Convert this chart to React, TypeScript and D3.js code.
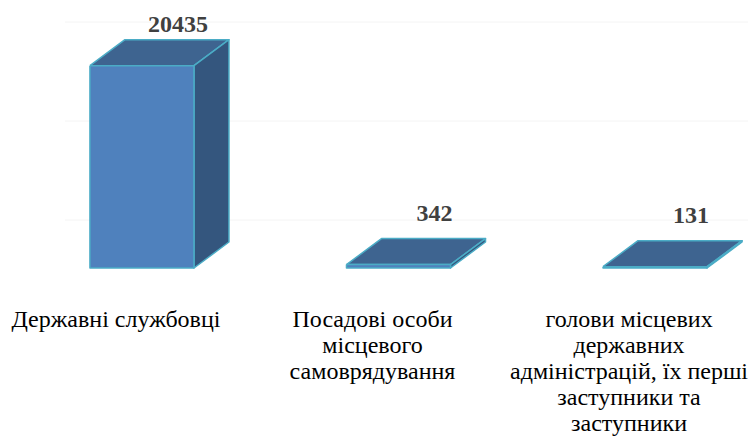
import React from "react";
import * as d3 from "d3";

const categories: string[][] = [
  ["Державні службовці"],
  ["Посадові особи", "місцевого", "самоврядування"],
  ["голови місцевих", "державних", "адміністрацій, їх перші", "заступники та", "заступники"],
];
const values: number[] = [20435, 342, 131];
const gridValues: number[] = [0, 10000, 20000];

const W = 748;
const H = 437;
const BASE = 268;
const DX = 35;
const DY = -26;
const WALL_DX = 65;
const WALL_DY = -48;
const FONT = "Liberation Serif";

export default function App() {
  const keys = categories.map((_, i) => String(i));
  const x = d3
    .scaleBand<string>()
    .domain(keys)
    .range([13.75, 783.25])
    .paddingInner(0.5945)
    .paddingOuter(0.297);
  const y = d3.scaleLinear().domain([0, 25000]).range([BASE, BASE - 25000 * 0.0099]);
  const bw = x.bandwidth();

  const poly = (pts: [number, number][]) => d3.line()(pts.concat([pts[0]])) as string;

  return (
    <svg width={W} height={H} style={{ position: "absolute", left: 0, top: 0 }}>
      {gridValues.map((g) => (
        <line
          key={g}
          x1={WALL_DX}
          x2={W}
          y1={y(g) + WALL_DY}
          y2={y(g) + WALL_DY}
          stroke="#f4f4f4"
          strokeWidth={1}
        />
      ))}
      {values.map((v, i) => {
        const x0 = x(keys[i]) as number;
        const x1 = x0 + bw;
        const yt = y(v);
        const yb = y(0);
        const top = poly([
          [x0, yt],
          [x1, yt],
          [x1 + DX, yt + DY],
          [x0 + DX, yt + DY],
        ]);
        const side = poly([
          [x1, yt],
          [x1 + DX, yt + DY],
          [x1 + DX, yb + DY],
          [x1, yb],
        ]);
        const front = poly([
          [x0, yt],
          [x1, yt],
          [x1, yb],
          [x0, yb],
        ]);
        const labelY = Math.max(yt + DY - 18, 32);
        return (
          <g key={i}>
            <path d={top} fill="#3e6490" stroke="#4bacc6" strokeWidth={1.5} strokeLinejoin="round" />
            <path d={side} fill="#34567e" stroke="#4bacc6" strokeWidth={1.5} strokeLinejoin="round" />
            <path d={front} fill="#4f81bd" stroke="#4bacc6" strokeWidth={1.5} strokeLinejoin="round" />
            <text
              x={x0 + DX + bw / 2 + 1}
              y={labelY}
              textAnchor="middle"
              fontSize={24}
              fill="#404040"
              style={{ fontFamily: FONT, fontWeight: 700 }}
            >
              {v}
            </text>
          </g>
        );
      })}
      {categories.map((lines, i) => {
        const cx = (x(keys[i]) as number) + bw / 2 - 26;
        return lines.map((ln, j) => (
          <text
            key={i + "-" + j}
            x={cx}
            y={327 + j * 26}
            textAnchor="middle"
            fontSize={24}
            style={{ fontFamily: FONT }}
          >
            {ln}
          </text>
        ));
      })}
    </svg>
  );
}
